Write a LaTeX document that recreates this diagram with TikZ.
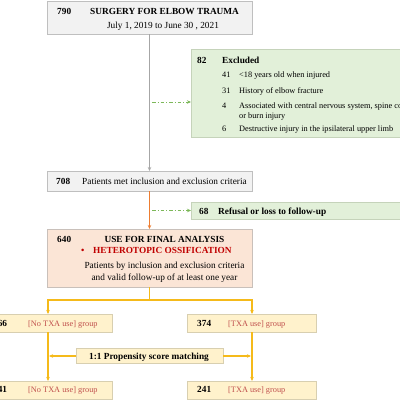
\documentclass[tikz,border=0pt]{standalone}
\usepackage{fontspec}
\setmainfont{Liberation Serif}
\usetikzlibrary{arrows.meta}
\definecolor{grayfill}{HTML}{F2F2F2}
\definecolor{grayedge}{HTML}{BFBFBF}
\definecolor{greenfill}{HTML}{E2F0D9}
\definecolor{greenedge}{HTML}{C5D3BA}
\definecolor{salmonfill}{HTML}{FBE5D6}
\definecolor{salmonedge}{HTML}{C9C0BA}
\definecolor{yelfill}{HTML}{FFF2CC}
\definecolor{yeledge}{HTML}{D8CFB0}
\definecolor{lgray}{HTML}{A6A6A6}
\definecolor{lorange}{HTML}{ED7D31}
\definecolor{lgreen}{HTML}{7DB85A}
\definecolor{lyellow}{HTML}{F5BA1A}
\definecolor{darkred}{HTML}{C00000}
\definecolor{softred}{HTML}{C0504D}
\newcommand\fnorm{\fontsize{9.3pt}{11.5pt}\selectfont}
\newcommand\fsmall{\fontsize{8.3pt}{10pt}\selectfont}
\tikzset{
  box/.style={rectangle, inner sep=0pt, outer sep=0pt, line width=0.8pt},
  graybox/.style={box, draw=grayedge, fill=grayfill},
  greenbox/.style={box, draw=greenedge, fill=greenfill},
  salmonbox/.style={box, draw=salmonedge, fill=salmonfill},
  yelbox/.style={box, draw=yeledge, fill=yelfill},
  txt/.style={inner sep=0pt, anchor=base west, font=\fnorm},
  btxt/.style={txt, font=\fnorm\bfseries},
  stxt/.style={txt, font=\fsmall},
  ctxt/.style={inner sep=0pt, anchor=base, font=\fnorm},
  grptxt/.style={txt, font=\fsmall, text=softred},
  tip/.style={-{Stealth[length=4pt,width=3.5pt]}},
  grayline/.style={draw=lgray, line width=0.8pt},
  orangeline/.style={draw=lorange, line width=0.9pt},
  greendash/.style={draw=lgreen, line width=0.9pt, dash pattern=on 3.5pt off 2pt on 1pt off 2pt},
  yelline/.style={draw=lyellow, line width=1.5pt},
}
\begin{document}
\begin{tikzpicture}[x=1pt,y=-1pt]
\useasboundingbox (0,0) rectangle (400,400);
\clip (0,0) rectangle (400,400);
% boxes
\node[graybox, minimum width=205pt, minimum height=33pt] (top) at (149.5,17.5) {};
\node[greenbox, minimum width=239pt, minimum height=88pt] (excl) at (310.5,93) {};
\node[graybox, minimum width=205pt, minimum height=20pt] (b708) at (149.5,181) {};
\node[greenbox, minimum width=239pt, minimum height=17pt] (refusal) at (310.5,210.5) {};
\node[salmonbox, minimum width=205pt, minimum height=58pt] (b640) at (149.5,258) {};
\node[yelbox, minimum width=129pt, minimum height=18pt] (g266) at (48,323) {};
\node[yelbox, minimum width=129pt, minimum height=18pt] (g374) at (252,323) {};
\node[yelbox, minimum width=147pt, minimum height=15pt] (psm) at (149.5,356) {};
\node[yelbox, minimum width=129pt, minimum height=18pt] (g241a) at (48,390) {};
\node[yelbox, minimum width=129pt, minimum height=18pt] (g241b) at (252,390) {};
% connectors
\draw[grayline, tip] (top.south) -- (b708.north);
\coordinate (e1) at (152,102);
\draw[greendash, tip] (e1) -- (e1 -| excl.west);
\draw[orangeline, tip] (b708.south) -- (b640.north);
\coordinate (e2) at (152,210.5);
\draw[greendash, tip] (e2) -- (e2 -| refusal.west);
\coordinate (split) at (149.5,300);
\draw[yelline] (b640.south) -- (split);
\draw[yelline, tip] (split) -| (g266.north);
\draw[yelline, tip] (split) -| (g374.north);
\draw[yelline, tip] (g266.south) -- (g241a.north);
\draw[yelline, tip] (g374.south) -- (g241b.north);
\draw[yelline, tip, shorten >=1pt] (psm.west) -- (psm.west -| g266.center);
\draw[yelline, tip, shorten >=1pt] (psm.east) -- (psm.east -| g374.center);
% texts top
\node[btxt] (n790) at (57,14.5) {790};
\node[btxt] (ttl) at (90,14.5) {SURGERY FOR ELBOW TRAUMA};
\node[ctxt] (dates) at (163,28.5) {July 1, 2019 to June 30 , 2021};
% excluded
\node[btxt] (n82) at (197,63.5) {82};
\node[btxt] (texcl) at (222,63.5) {Excluded};
\node[stxt] (n41) at (222,77.5) {41};
\node[stxt] (t41) at (239,77.5) {<18 years old when injured};
\node[stxt] (n31) at (222,93) {31};
\node[stxt] (t31) at (239,93) {History of elbow fracture};
\node[stxt] (n4) at (222,108) {4};
\node[stxt] (t4) at (239,108) {Associated with central nervous system, spine cord};
\node[stxt] (t4b) at (239,118.5) {or burn injury};
\node[stxt] (n6) at (222,131) {6};
\node[stxt] (t6) at (239,131) {Destructive injury in the ipsilateral upper limb};
% 708
\node[btxt] (n708) at (56,184) {708};
\node[txt] (t708) at (82,184) {Patients met inclusion and exclusion criteria};
% refusal
\node[btxt] (n68) at (199,214) {68};
\node[btxt] (t68) at (218,214) {Refusal or loss to follow-up};
% 640
\node[btxt] (n640) at (57,242) {640};
\node[ctxt, font=\fnorm\bfseries] (use) at (164.5,242) {USE FOR FINAL ANALYSIS};
\node[btxt, text=darkred] (bul) at (81,253) {•};
\node[btxt, text=darkred] (ho) at (93,253) {HETEROTOPIC OSSIFICATION};
\node[ctxt] (p1) at (164.5,268) {Patients by inclusion and exclusion criteria};
\node[ctxt] (p2) at (164.5,280) {and valid follow-up of at least one year};
% groups
\node[btxt] (n266) at (-7,326) {266};
\node[grptxt] (tg266) at (28,326) {[No TXA use] group};
\node[btxt] (n374) at (197,326) {374};
\node[grptxt] (tg374) at (228,326) {[TXA use] group};
\node[ctxt, font=\fnorm\bfseries] (tpsm) at (149,359.5) {1:1 Propensity score matching};
\node[btxt] (n241a) at (-7,392.5) {241};
\node[grptxt] (tg241a) at (28,392.5) {[No TXA use] group};
\node[btxt] (n241b) at (197,392.5) {241};
\node[grptxt] (tg241b) at (228,392.5) {[TXA use] group};
\end{tikzpicture}
\end{document}
